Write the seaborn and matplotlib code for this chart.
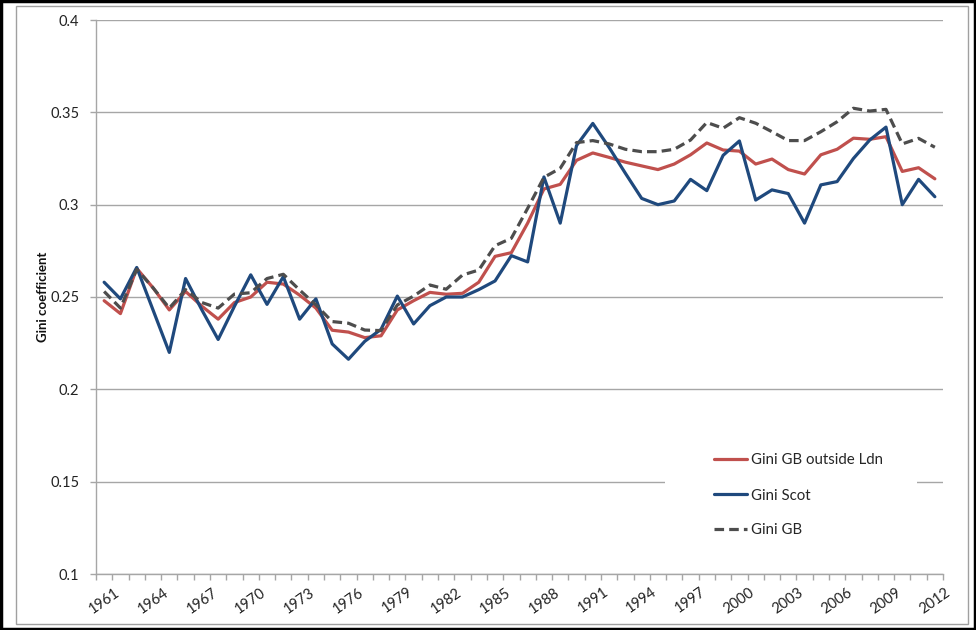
import matplotlib
matplotlib.use("Agg")
import matplotlib.pyplot as plt
import seaborn as sns
import pandas as pd
import numpy as np
from matplotlib.patches import Rectangle
from matplotlib.lines import Line2D

years = list(range(1961, 2013))

gini_gb_outside_ldn = [0.248, 0.241, 0.2655, 0.255, 0.243, 0.253, 0.245, 0.238, 0.247, 0.250,
                       0.258, 0.257, 0.251, 0.244, 0.232, 0.231, 0.228, 0.229, 0.243, 0.248,
                       0.2525, 0.2515, 0.252, 0.258, 0.272, 0.274, 0.290, 0.3085, 0.311, 0.324,
                       0.328, 0.3256, 0.323, 0.321, 0.319, 0.322, 0.327, 0.3334, 0.3296, 0.329,
                       0.322, 0.3247, 0.319, 0.3166, 0.327, 0.330, 0.336, 0.3354, 0.3368, 0.318,
                       0.320, 0.314]

gini_scot = [0.258, 0.249, 0.266, 0.243, 0.220, 0.260, 0.243, 0.227, 0.245, 0.262,
             0.246, 0.261, 0.238, 0.249, 0.2246, 0.2163, 0.226, 0.2325, 0.2505, 0.2354,
             0.2453, 0.250, 0.250, 0.254, 0.2587, 0.2724, 0.269, 0.315, 0.290, 0.332,
             0.344, 0.331, 0.317, 0.3034, 0.300, 0.302, 0.3137, 0.3076, 0.3267, 0.3345,
             0.3025, 0.308, 0.306, 0.290, 0.3107, 0.3125, 0.325, 0.335, 0.342, 0.300,
             0.3137, 0.3043]

gini_gb = [0.253, 0.244, 0.265, 0.255, 0.244, 0.254, 0.247, 0.244, 0.2516, 0.2523,
           0.260, 0.2623, 0.2538, 0.2457, 0.2367, 0.2358, 0.2321, 0.2318, 0.2457, 0.2505,
           0.2565, 0.2542, 0.2619, 0.2646, 0.2778, 0.2818, 0.298, 0.3148, 0.3197, 0.3336,
           0.3347, 0.3329, 0.330, 0.3287, 0.3287, 0.330, 0.335, 0.3445, 0.3414, 0.3471,
           0.3441, 0.3395, 0.3347, 0.3347, 0.3395, 0.3449, 0.3522, 0.3507, 0.3516, 0.3329,
           0.3359, 0.3311]

series_names = ["Gini GB outside Ldn", "Gini Scot", "Gini GB"]
y_ticks = [0.1, 0.15, 0.2, 0.25, 0.3, 0.35, 0.4]
y_tick_labels = ["0.1", "0.15", "0.2", "0.25", "0.3", "0.35", "0.4"]
x_label_years = list(range(1961, 2013, 3))

df = pd.DataFrame({
    "Year": years * 3,
    "Gini": gini_gb_outside_ldn + gini_scot + gini_gb,
    "Series": [series_names[0]] * len(years) + [series_names[1]] * len(years) + [series_names[2]] * len(years),
})

sns.set_theme(style="white")
plt.rcParams["font.family"] = ["Lato", "DejaVu Sans"]

fig = plt.figure(figsize=(9.76, 6.3), dpi=100)
ax = fig.add_axes([96 / 976, 1 - 574 / 630, (943 - 96) / 976, (574 - 20) / 630])

palette = {series_names[0]: "#C0504D", series_names[1]: "#1F497D", series_names[2]: "#4D4D4D"}
dashes = {series_names[0]: "", series_names[1]: "", series_names[2]: (3, 1.6)}

sns.lineplot(data=df, x="Year", y="Gini", hue="Series", style="Series",
             palette=palette, dashes=dashes, linewidth=2.3, ax=ax, legend=False,
             hue_order=series_names, style_order=series_names, zorder=3)

ax.set_xlim(1960.5, 2012.5)
ax.set_ylim(0.1, 0.4)

# y axis
ax.set_yticks(y_ticks)
ax.set_yticklabels(y_tick_labels, fontsize=10.5, color="#222222")
ax.yaxis.grid(True, color="#A6A6A6", linewidth=1.0)
ax.set_axisbelow(True)

# x axis: ticks at category boundaries, labels at centers
ax.set_xticks([y + 0.5 for y in range(1960, 2013)])
ax.set_xticklabels([])
ax.set_xticks(x_label_years, minor=True)
ax.set_xticklabels([str(y) for y in x_label_years], minor=True, rotation=35,
                   fontsize=10.5, color="#222222", ha="center")
ax.tick_params(axis="x", which="major", direction="out", length=4, width=1, color="#A6A6A6", bottom=True)
ax.tick_params(axis="x", which="minor", length=0, pad=8, bottom=True)
ax.tick_params(axis="y", which="major", direction="out", length=4, width=1, color="#A6A6A6", left=True, pad=8)

for s in ["top", "right"]:
    ax.spines[s].set_visible(False)
for s in ["left", "bottom"]:
    ax.spines[s].set_color("#A6A6A6")
    ax.spines[s].set_linewidth(1.0)

ax.set_xlabel("")
ax.set_ylabel("Gini coefficient", fontsize=9.5, fontweight="bold", color="#111111", labelpad=1)

# legend with white background box (covers gridline)
bg = Rectangle((665 / 976, 1 - 560 / 630), (917 - 665) / 976, (560 - 440) / 630,
               transform=fig.transFigure, facecolor="white", edgecolor="none", zorder=2)
fig.add_artist(bg)
handles = [Line2D([0], [0], color=palette[n], linewidth=2.3,
                  linestyle="--" if n == "Gini GB" else "-",
                  dashes=(3, 1.6) if n == "Gini GB" else (None, None)) for n in series_names]
leg = fig.legend(handles, series_names, loc="upper left", bbox_to_anchor=(700 / 976, 1 - 440 / 630),
                 frameon=False, fontsize=10.8, handlelength=2.2, handletextpad=0.3,
                 labelspacing=1.4)
leg.set_zorder(5)

# chart borders
fig.add_artist(Rectangle((16 / 976, 6 / 630), (968 - 16) / 976, (624 - 6) / 630,
                         transform=fig.transFigure, facecolor="none", edgecolor="#A0A0A0", linewidth=1.0))
fig.add_artist(Rectangle((0.001, 0.001), 0.998, 0.998, transform=fig.transFigure,
                         facecolor="none", edgecolor="black", linewidth=2.5))

fig.savefig("out.png", dpi=100)
